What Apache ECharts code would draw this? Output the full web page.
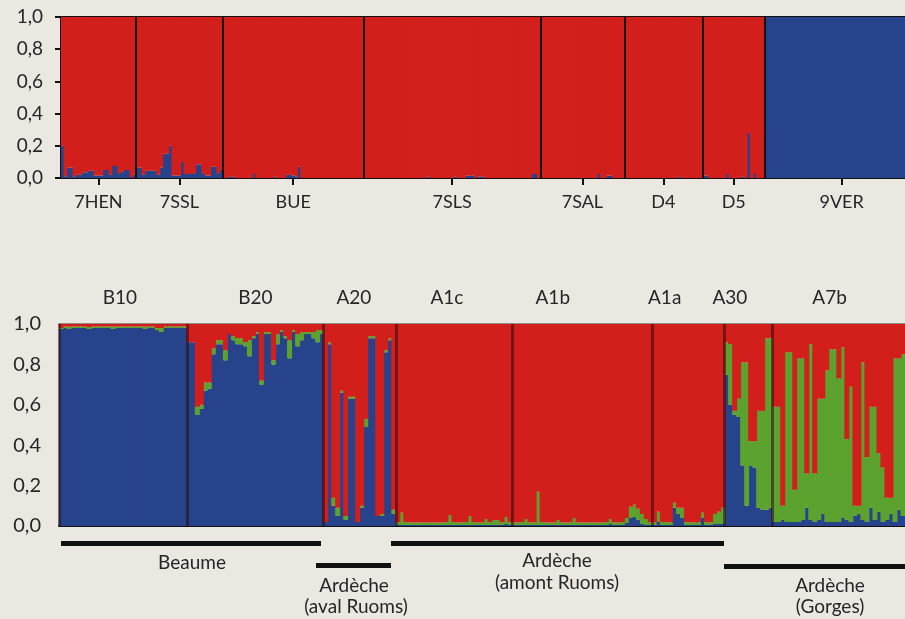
<!DOCTYPE html>
<html><head><meta charset="utf-8">
<script src="https://cdn.jsdelivr.net/npm/echarts@6/dist/echarts.min.js"></script>
<style>html,body{margin:0;padding:0;background:#EBE8E2;}#c{width:905px;height:619px;}</style>
</head><body><div id="c"></div>
<script>
// ---------- TOP PANEL (K=2) : blue membership per individual, red = remainder ----------
const topPops = ['7HEN','7SSL','BUE','7SLS','7SAL','D4','D5','9VER'];
const blue7HEN = [0.20,0.01,0.065,0.065,0.01,0.02,0.02,0.035,0.035,0.045,
  0.045,0.015,0.015,0.015,0.05,0.05,0.02,0.075,0.075,0.03,
  0.04,0.05,0.05,0.005,0.02];
const blue7SSL = [0.065,0.065,0.02,0.045,0.045,0.045,0.045,0.02,0.065,0.15,
  0.15,0.20,0.015,0.015,0.015,0.10,0.025,0.025,0.025,0.03,
  0.085,0.085,0.03,0.015,0.015,0.07,0.07,0.03,0.05];
const blueBUE = [0,0,0.01,0.01,0,0,0,0,0,0,
  0.025,0,0,0,0,0,0,0.01,0,0,
  0,0.02,0.02,0.015,0.01,0.07,0,0,0,0,
  0,0,0,0,0,0,0,0,0,0,
  0,0,0,0,0,0,0];
const blue7SLS = [0,0,0,0,0,0,0,0,0,0,
  0,0,0,0,0,0,0,0,0,0,
  0,0.01,0,0,0,0,0,0,0,0,
  0.01,0,0,0,0.015,0.015,0.015,0,0.01,0.01,
  0,0,0,0,0,0,0,0,0,0,
  0,0,0,0,0,0,0.025,0.025,0];
const blue7SAL = [0,0,0,0,0,0,0,0,0,0,
  0,0,0,0,0,0,0,0,0,0.025,
  0,0,0.015,0.015,0,0,0,0];
const blueD4 = [0,0,0,0,0,0,0,0,0,0,
  0,0,0,0,0,0,0,0,0.01,0,
  0,0,0,0,0,0];
const blueD5 = [0.015,0.015,0,0,0,0,0,0,0.025,0,
  0,0,0,0.01,0,0.28,0,0.025,0,0,0];
const blue9VER = [1,1,1,1,1,1,1,1,1,1,
  1,1,1,1,1,1,1,1,1,1,
  1,1,1,1,1,1,1,1,1,1,
  1,1,1,1,1,1,1,1,1,1,
  1,1,1,1,1,1,1,1,1,1,1];

// ---------- BOTTOM PANEL (K=3) : blue & green membership, red = remainder ----------
const botPops = ['B10','B20','A20','A1c','A1b','A1a','A30','A7b'];
const blueB10 = [0.975,0.98,0.975,0.98,0.98,0.98,0.98,0.975,0.98,0.98,
  0.98,0.98,0.98,0.975,0.98,0.98,0.98,0.98,0.98,0.98,
  0.98,0.975,0.98,0.98,0.97,0.96,0.98,0.98,0.98,0.98,0.98,0.98];
const greenB10 = [0.005,0.008,0.012,0.008,0.008,0.008,0.008,0.01,0.008,0.008,
  0.008,0.008,0.008,0.012,0.008,0.008,0.008,0.008,0.008,0.008,
  0.008,0.012,0.008,0.008,0.01,0.02,0.008,0.008,0.008,0.008,0.008,0.008];
const blueB20 = [0.91,0.91,0.55,0.58,0.67,0.68,0.85,0.90,0.90,0.82,
  0.95,0.92,0.90,0.90,0.89,0.84,0.93,0.95,0.70,0.95,
  0.95,0.80,0.90,0.96,0.93,0.83,0.96,0.89,0.92,0.95,
  0.95,0.93,0.91,0.95];
const greenB20 = [0,0,0.04,0.02,0.04,0.03,0.03,0.02,0.02,0.05,
  0,0.02,0.03,0.03,0.02,0.08,0.01,0.01,0.02,0.01,
  0.01,0.02,0.05,0.01,0.01,0.09,0.01,0.06,0.04,0.01,
  0.01,0.03,0.06,0.02];
const blueA20 = [0.02,0.90,0.10,0.05,0.66,0.03,0.63,0.63,0.02,0.09,
  0.49,0.93,0.93,0.05,0.05,0.86,0.92,0.06];
const greenA20 = [0,0.01,0.04,0.04,0.01,0.02,0.01,0.01,0,0.01,
  0.04,0.01,0.01,0,0.01,0.01,0.01,0.02];
const blueA1c = [0.005,0.005,0.005,0.005,0.005,0.005,0.005,0.005,0.005,0.005,
  0.005,0.005,0.005,0.005,0.005,0.005,0.005,0.005,0.005,0.005,
  0.005,0.005,0.005,0.005,0.005,0.005,0.005,0.01,0.005];
const greenA1c = [0.012,0.06,0.015,0.012,0.012,0.012,0.012,0.012,0.012,0.012,
  0.012,0.012,0.015,0.05,0.015,0.012,0.012,0.015,0.045,0.015,
  0.012,0.012,0.03,0.015,0.025,0.025,0.012,0.035,0.015];
const blueA1b = [0.005,0.005,0.005,0.005,0.005,0.005,0.005,0.005,0.005,0.005,
  0.005,0.005,0.005,0.005,0.005,0.005,0.005,0.005,0.005,0.005,
  0.005,0.005,0.005,0.005,0.01,0.005,0.005,0.005,0.015,0.04,
  0.045,0.03,0.01,0.005,0.005];
const greenA1b = [0.012,0.012,0.015,0.03,0.012,0.012,0.165,0.015,0.012,0.012,
  0.012,0.025,0.012,0.012,0.012,0.035,0.012,0.012,0.012,0.012,
  0.012,0.012,0.012,0.015,0.025,0.012,0.012,0.015,0.025,0.055,
  0.06,0.055,0.05,0.03,0.012];
const blueA1a = [0.005,0.02,0.005,0.005,0.005,0.09,0.06,0.04,0.005,0.005,
  0.005,0.005,0.04,0.005,0.005,0.01,0.01,0.01];
const greenA1a = [0.012,0.05,0.015,0.015,0.012,0.025,0.03,0.05,0.015,0.012,
  0.012,0.015,0.025,0.015,0.012,0.05,0.06,0.08];
const blueA30 = [0.75,0.60,0.55,0.54,0.30,0.10,0.30,0.29,0.09,0.08,0.08,0.09];
const greenA30 = [0.16,0.30,0.02,0.09,0.51,0.71,0.12,0.13,0.48,0.49,0.85,0.84];
const blueA7b = [0.02,0.02,0.03,0.02,0.02,0.02,0.02,0.03,0.09,0.03,
  0.02,0.03,0.06,0.02,0.02,0.02,0.02,0.04,0.03,0.02,
  0.05,0.06,0.03,0.02,0.09,0.03,0.07,0.02,0.03,0.06,
  0.02,0.08,0.05];
const greenA7b = [0.57,0.57,0.07,0.84,0.84,0.16,0.81,0.80,0.17,0.87,
  0.24,0.60,0.57,0.75,0.855,0.855,0.71,0.845,0.40,0.67,
  0.05,0.04,0.78,0.32,0.50,0.56,0.29,0.27,0.11,0.08,
  0.81,0.75,0.80];

// y tick labels
const yTicks = ['0,0','0,2','0,4','0,6','0,8','1,0'];

// ---------- build ----------
const topGroups = [blue7HEN,blue7SSL,blueBUE,blue7SLS,blue7SAL,blueD4,blueD5,blue9VER];
const botBlueGroups = [blueB10,blueB20,blueA20,blueA1c,blueA1b,blueA1a,blueA30,blueA7b];
const botGreenGroups = [greenB10,greenB20,greenA20,greenA1c,greenA1b,greenA1a,greenA30,greenA7b];

function cum(groups){const b=[0];groups.forEach(g=>b.push(b[b.length-1]+g.length));return b;}
const topBounds = cum(topGroups), botBounds = cum(botBlueGroups);
const topBlue = [].concat(...topGroups);
const topRed = topBlue.map(v=>Math.max(0,1-v));
const botBlue = [].concat(...botBlueGroups);
const botGreen = [].concat(...botGreenGroups);
const botRed = botBlue.map((v,i)=>Math.max(0,1-v-botGreen[i]));
const nTop = topBlue.length, nBot = botBlue.length;
const topCenters = topGroups.map((g,i)=>topBounds[i]+g.length/2);
// label anchor within each bottom population (fraction of its width) — layout only
const botLabelFrac = [0.475,0.5,0.42,0.44,0.29,0.17,0.11,0.43];
const botLabelPos = botBlueGroups.map((g,i)=>botBounds[i]+g.length*botLabelFrac[i]);

const RED='#D21F1B', BLUE='#27438B', GREEN='#5BA22E', TXT='#262626';
const FONT='Lato';
function nameAt(pos, arr, names){let k=0,d=1e9;arr.forEach((p,i)=>{if(Math.abs(p-pos)<d){d=Math.abs(p-pos);k=i;}});return names[k];}
const yFmt = v => yTicks[Math.round(v*5)];

const idxTop = topBlue.map((_,i)=>i), idxBot = botBlue.map((_,i)=>i);
function bar(name,data,color,xi,yi,stack){
  return {type:'bar',name,data,stack,xAxisIndex:xi,yAxisIndex:yi,barWidth:'125%',barGap:'-100%',
    itemStyle:{color},silent:true,animation:false};
}
const chart = echarts.init(document.getElementById('c'),null,{renderer:'canvas'});
chart.setOption({
  backgroundColor:'#EBE8E2',
  animation:false,
  grid:[
    {left:61,width:857,top:17,height:161,containLabel:false,outerBoundsMode:'none'},
    {left:59,width:846,top:324,height:202,containLabel:false,outerBoundsMode:'none'}
  ],
  xAxis:[
    {type:'category',gridIndex:0,data:idxTop,show:false},
    {type:'value',gridIndex:0,min:0,max:nTop,position:'bottom',
      axisLine:{show:true,lineStyle:{color:'#111',width:2}},
      axisTick:{show:true,customValues:topCenters,length:7,lineStyle:{color:'#111',width:2}},
      axisLabel:{show:true,customValues:topCenters,margin:15,color:TXT,fontFamily:FONT,fontSize:18,
        formatter:v=>nameAt(v,topCenters,topPops)},
      splitLine:{show:false}},
    {type:'value',gridIndex:0,min:0,max:nTop,position:'top',
      axisLine:{show:true,lineStyle:{color:'#111',width:2}},axisTick:{show:false},axisLabel:{show:false},splitLine:{show:false}},
    {type:'category',gridIndex:1,data:idxBot,show:false},
    {type:'value',gridIndex:1,min:0,max:nBot,position:'top',
      axisLine:{show:true,lineStyle:{color:'#8f8c88',width:2}},
      axisTick:{show:false},
      axisLabel:{show:true,customValues:botLabelPos,margin:17,color:TXT,fontFamily:FONT,fontSize:19,
        formatter:v=>nameAt(v,botLabelPos,botPops)},
      splitLine:{show:false}},
    {type:'value',gridIndex:1,min:0,max:nBot,position:'bottom',
      axisLine:{show:true,lineStyle:{color:'#111',width:2}},axisTick:{show:false},axisLabel:{show:false},splitLine:{show:false}}
  ],
  yAxis:[
    {type:'value',gridIndex:0,min:0,max:1,interval:0.2,
      axisLine:{show:true,lineStyle:{color:'#111',width:2}},
      axisTick:{show:true,length:6,lineStyle:{color:'#111',width:2}},
      axisLabel:{margin:18,color:TXT,fontFamily:FONT,fontSize:19,formatter:yFmt},
      splitLine:{show:false}},
    {type:'value',gridIndex:1,min:0,max:1,interval:0.2,
      axisLine:{show:false},axisTick:{show:false},
      axisLabel:{margin:18,color:TXT,fontFamily:FONT,fontSize:20,formatter:yFmt},
      splitLine:{show:false}}
  ],
  series:[
    bar('blue',topBlue,BLUE,0,0,'t'),
    bar('red',topRed,RED,0,0,'t'),
    bar('blue',botBlue,BLUE,3,1,'b'),
    bar('green',botGreen,GREEN,3,1,'b'),
    bar('red',botRed,RED,3,1,'b'),
    {type:'line',xAxisIndex:1,yAxisIndex:0,data:[],silent:true,
      markLine:{silent:true,symbol:['none','none'],label:{show:false},animation:false,
        lineStyle:{color:'#111',width:2,type:'solid'},
        data:topBounds.slice(1,-1).map(b=>({xAxis:b}))}},
    {type:'line',xAxisIndex:4,yAxisIndex:1,data:[],silent:true,
      markLine:{silent:true,symbol:['none','none'],label:{show:false},animation:false,
        lineStyle:{color:'rgba(45,10,12,0.55)',width:3,type:'solid'},
        data:botBounds.slice(0,-1).map(b=>({xAxis:b}))}}
  ],
  graphic:[
    {type:'rect',shape:{x:61,y:541,width:260,height:5},style:{fill:'#111'}},
    {type:'rect',shape:{x:316,y:563,width:75,height:5},style:{fill:'#111'}},
    {type:'rect',shape:{x:391,y:541,width:333,height:5},style:{fill:'#111'}},
    {type:'rect',shape:{x:724,y:564,width:181,height:5},style:{fill:'#111'}},
    {type:'text',x:192,y:563,style:{text:'Beaume',fill:TXT,font:'19px Lato',textAlign:'center',textVerticalAlign:'middle'}},
    {type:'text',x:354,y:586,style:{text:'Ardèche',fill:TXT,font:'19px Lato',textAlign:'center',textVerticalAlign:'middle'}},
    {type:'text',x:356,y:607,style:{text:'(aval Ruoms)',fill:TXT,font:'19px Lato',textAlign:'center',textVerticalAlign:'middle'}},
    {type:'text',x:557,y:561,style:{text:'Ardèche',fill:TXT,font:'19px Lato',textAlign:'center',textVerticalAlign:'middle'}},
    {type:'text',x:557,y:583,style:{text:'(amont Ruoms)',fill:TXT,font:'19px Lato',textAlign:'center',textVerticalAlign:'middle'}},
    {type:'text',x:830,y:586,style:{text:'Ardèche',fill:TXT,font:'19px Lato',textAlign:'center',textVerticalAlign:'middle'}},
    {type:'text',x:830,y:607,style:{text:'(Gorges)',fill:TXT,font:'19px Lato',textAlign:'center',textVerticalAlign:'middle'}}
  ]
});
</script></body></html>
